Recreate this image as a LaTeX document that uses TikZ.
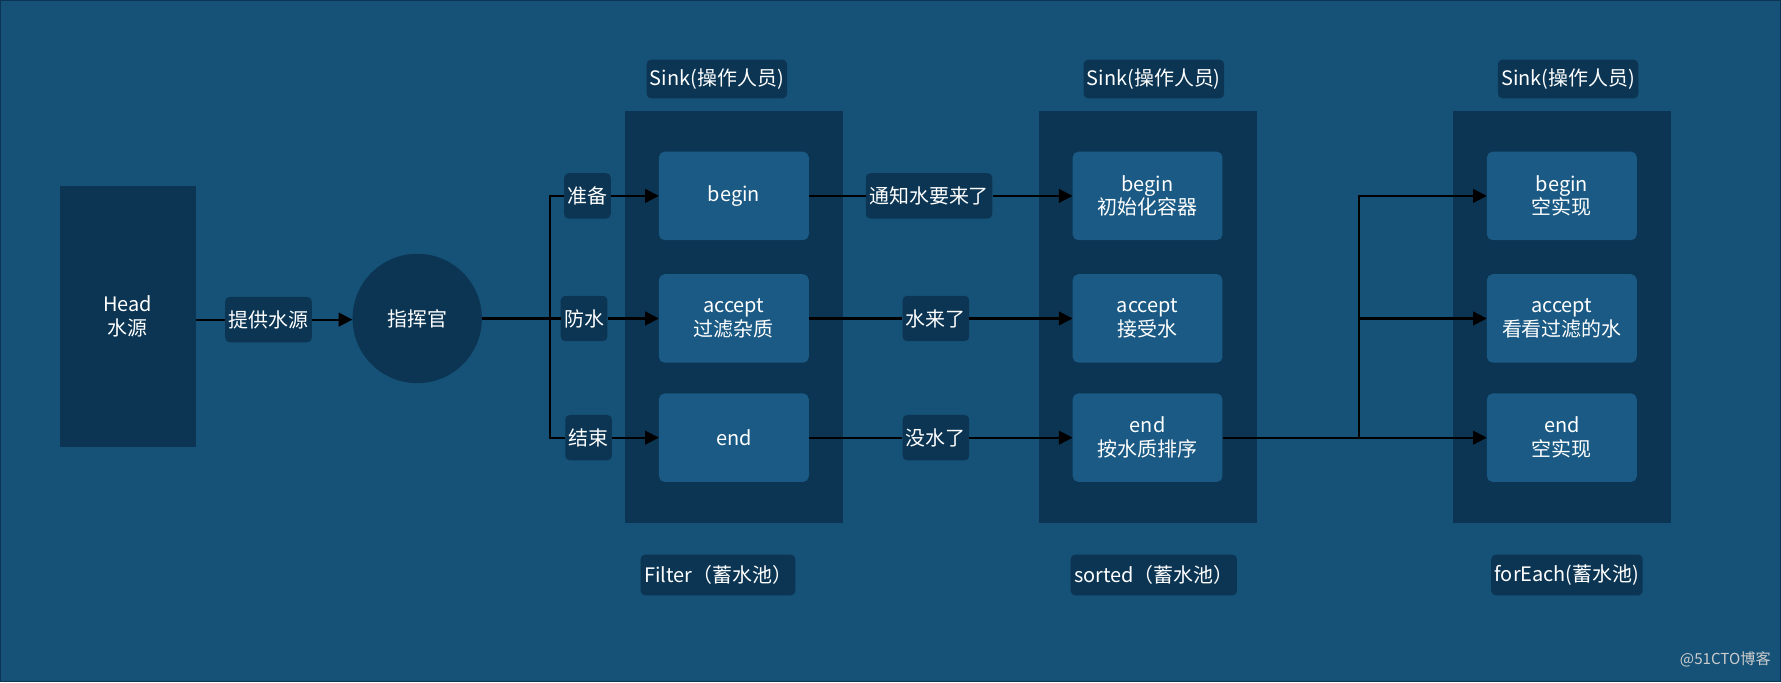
\documentclass[tikz,border=0pt]{standalone}
\usepackage{fontspec}
\setmainfont{Noto Sans CJK SC}
\usetikzlibrary{arrows.meta,positioning}
\definecolor{bgc}{HTML}{165278}
\definecolor{darkc}{HTML}{0B3553}
\definecolor{innerc}{HTML}{1A5A84}
\begin{document}
\begin{tikzpicture}[x=0.5mm,y=-0.5mm,
  txt/.style={text=white,font=\fontsize{25}{30}\selectfont,align=center},
  cont/.style={fill=darkc,minimum width=96mm,minimum height=181.5mm,inner sep=0},
  inner/.style={txt,fill=innerc,rounded corners=2.5mm,minimum width=66mm,minimum height=39mm,inner sep=0},
  lbl/.style={txt,fill=darkc,rounded corners=2mm,minimum height=20mm,inner sep=1.5mm},
  conn/.style={line width=0.9mm,black},
  arr/.style={conn,-{Triangle[length=6mm,width=6mm]}}]
\fill[bgc,draw=darkc,line width=0.6mm] (0,0) rectangle (1568,600);
\useasboundingbox (0,0) rectangle (1568,600);
% Head
\node[txt,fill=darkc,minimum width=60mm,minimum height=115mm,inner sep=0] (head) at (112,278) {Head\\水源};
\node[lbl] (supply) at (236,281) {提供水源};
\node[txt,circle,fill=darkc,minimum size=57mm,inner sep=0] (cmd) at (367,280) {指挥官};
% containers
\node[cont] (c1) at (646,278.5) {};
\node[cont] (c2) at (1011,278.5) {};
\node[cont] (c3) at (1375.5,278.5) {};
\node[inner] (b1) at (646,172) {begin};
\node[inner] (a1) at (646,280) {accept\\过滤杂质};
\node[inner] (e1) at (646,385) {end};
\node[inner] (b2) at (1010.5,172) {begin\\初始化容器};
\node[inner] (a2) at (1010.5,280) {accept\\接受水};
\node[inner] (e2) at (1010.5,385) {end\\按水质排序};
\node[inner] (b3) at (1375.5,172) {begin\\空实现};
\node[inner] (a3) at (1375.5,280) {accept\\看看过滤的水};
\node[inner] (e3) at (1375.5,385) {end\\空实现};
% top/bottom labels
\node[lbl,minimum height=17mm] (s1) at (631,69) {Sink(操作人员)};
\node[lbl,minimum height=17mm] (s2) at (1016,69) {Sink(操作人员)};
\node[lbl,minimum height=17mm] (s3) at (1381,69) {Sink(操作人员)};
\node[lbl,minimum height=18mm] (f1) at (632,506) {Filter（蓄水池）};
\node[lbl,minimum height=18mm] (f2) at (1016,506) {sorted（蓄水池）};
\node[lbl,minimum height=18mm] (f3) at (1380,506) {forEach(蓄水池)};
% head -> cmd
\draw[conn] (head.east |- supply.west) -- (supply.west);
\draw[arr] (supply.east) -- (supply.east -| cmd.west);
% branch
\coordinate (t) at (484,280);
\draw[conn] (cmd.east) -- (t);
\node[lbl] (l1) at (517,172) {准备};
\node[lbl] (l2) at (514,280) {防水};
\node[lbl] (l3) at (518,385) {结束};
\draw[conn] (t) |- (l1.west);
\draw[conn] (t) |- (l3.west);
\draw[conn] (t) -- (l2.west);
\draw[arr] (l1.east) -- (b1.west);
\draw[arr] (l2.east) -- (a1.west);
\draw[arr] (l3.east) -- (e1.west);
% middle
\node[lbl] (m1) at (818,172) {通知水要来了};
\node[lbl] (m2) at (824,280) {水来了};
\node[lbl] (m3) at (824,385) {没水了};
\draw[conn] (b1.east) -- (m1.west);
\draw[conn] (a1.east) -- (m2.west);
\draw[conn] (e1.east) -- (m3.west);
\draw[arr] (m1.east) -- (b2.west);
\draw[arr] (m2.east) -- (a2.west);
\draw[arr] (m3.east) -- (e2.west);
% last
\coordinate (t2) at (1197,385);
\draw[arr] (e2.east) -- (e3.west);
\draw[arr] (t2) |- (b3.west);
\draw[arr] (t2) |- (a3.west);
\node[text=gray!40,font=\fontsize{19}{22}\selectfont,anchor=east] (wm) at (1562,580) {@51CTO博客};
\end{tikzpicture}
\end{document}
